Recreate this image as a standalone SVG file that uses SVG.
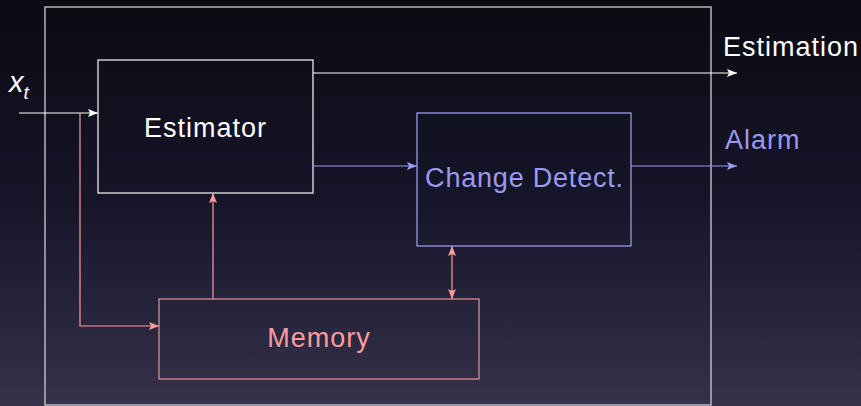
<svg xmlns="http://www.w3.org/2000/svg" width="861" height="406" viewBox="0 0 861 406">
<defs>
<linearGradient id="bg" x1="0" y1="0" x2="0" y2="1">
<stop offset="0" stop-color="#0a0b12"/>
<stop offset="0.5" stop-color="#16152a"/>
<stop offset="1" stop-color="#35324a"/>
</linearGradient>
<marker id="aw" viewBox="0 0 10 8" refX="10" refY="4" markerWidth="10" markerHeight="8" markerUnits="userSpaceOnUse" orient="auto"><path d="M0,0 L10,4 L0,8 L2,4 Z" fill="#ffffff"/></marker>
<marker id="ab" viewBox="0 0 10 8" refX="10" refY="4" markerWidth="10" markerHeight="8" markerUnits="userSpaceOnUse" orient="auto"><path d="M0,0 L10,4 L0,8 L2,4 Z" fill="#9a9af0"/></marker>
<marker id="ar" viewBox="0 0 10 8" refX="10" refY="4" markerWidth="10" markerHeight="8" markerUnits="userSpaceOnUse" orient="auto-start-reverse"><path d="M0,0 L10,4 L0,8 L2,4 Z" fill="#ff9c9c"/></marker>
<style>
text{font-family:"Liberation Sans",Arial,sans-serif;font-size:27px;letter-spacing:1px}
.w{stroke:#ffffff;fill:none;stroke-width:1.2}
.b{stroke:#9a9af0;fill:none;stroke-width:1.2}
.r{stroke:#ff9c9c;fill:none;stroke-width:1.2}
</style>
</defs>
<rect width="861" height="406" fill="url(#bg)"/>
<rect x="45" y="7" width="666" height="398" fill="none" stroke="#cfcfcf" stroke-width="1.3"/>
<g id="estimator">
<rect x="98" y="60" width="215" height="133" fill="none" stroke="#e8e8e8" stroke-width="1.3"/>
<text x="205.5" y="137" fill="#ffffff" text-anchor="middle">Estimator</text>
</g>
<g id="change-detect">
<rect x="417" y="113" width="214" height="133" fill="none" stroke="#9a9ae6" stroke-width="1.3"/>
<text x="524.5" y="187" fill="#9a9af0" text-anchor="middle" style="letter-spacing:0.8px">Change Detect.</text>
</g>
<g id="memory">
<rect x="159" y="299" width="320" height="80" fill="none" stroke="#d88c8c" stroke-width="1.3"/>
<text x="319" y="347" fill="#ff9c9c" text-anchor="middle">Memory</text>
</g>
<g id="labels">
<text x="9" y="92" fill="#ffffff" font-style="italic" style="font-size:29px;letter-spacing:0">x<tspan style="font-size:19px" dy="7">t</tspan></text>
<text x="723" y="56" fill="#ffffff">Estimation</text>
<text x="725" y="149" fill="#9a9af0">Alarm</text>
</g>
<g id="connectors">
<line class="w" x1="19" y1="113" x2="98" y2="113" marker-end="url(#aw)"/>
<line class="w" x1="313" y1="73" x2="737" y2="73" marker-end="url(#aw)"/>
<line class="b" x1="313" y1="166" x2="417" y2="166" marker-end="url(#ab)"/>
<line class="b" x1="631" y1="166" x2="737" y2="166" marker-end="url(#ab)"/>
<polyline class="r" points="80,113 80,326 159,326" marker-end="url(#ar)"/>
<line class="r" x1="213" y1="299" x2="213" y2="193" marker-end="url(#ar)"/>
<line class="r" x1="452" y1="246" x2="452" y2="299" marker-start="url(#ar)" marker-end="url(#ar)"/>
</g>
</svg>
